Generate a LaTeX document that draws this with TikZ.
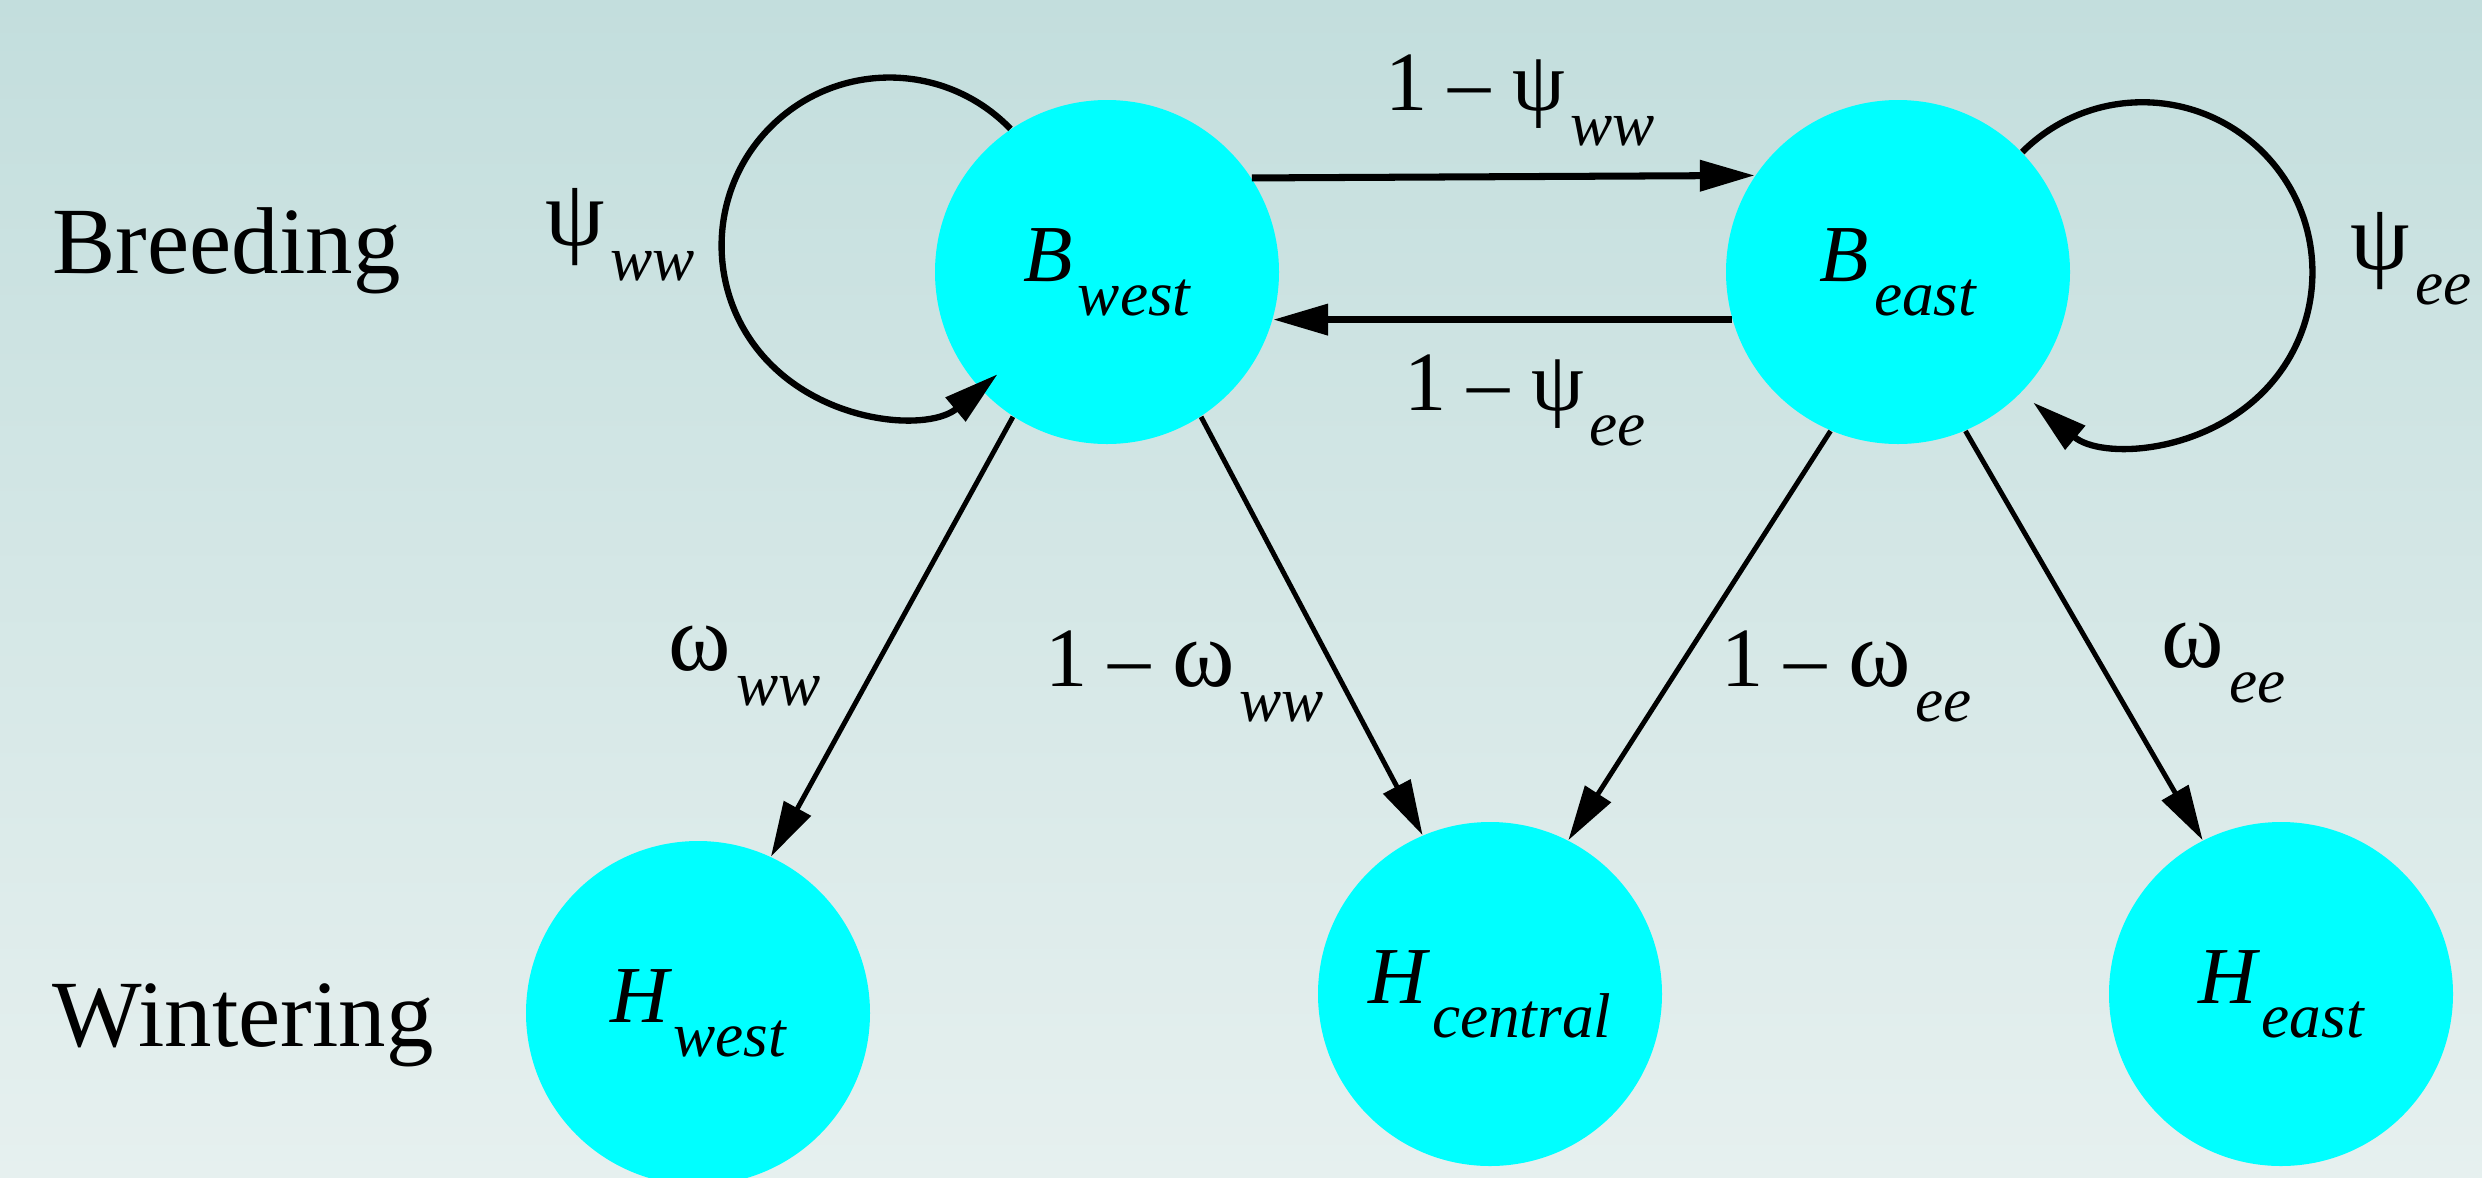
\documentclass[tikz,border=0pt]{standalone}
\usepackage{fontspec}
\setmainfont{Liberation Serif}
\usetikzlibrary{arrows.meta}
\definecolor{bgtop}{RGB}{195,222,221}
\definecolor{bgbot}{RGB}{230,240,239}
\definecolor{site}{RGB}{0,255,255}
\newcommand{\lowsub}[1]{\kern0.06em\raisebox{-0.42em}{\fontsize{18}{18}\selectfont\itshape #1}}
\newcommand{\gk}[1]{{\fontsize{27}{27}\selectfont #1}}

\begin{document}
\begin{tikzpicture}[
        state/.style={circle, fill=site, minimum size=3.44cm, inner sep=0pt,
                      font=\fontsize{23}{23}\selectfont\itshape},
        season/.style={font=\fontsize{27}{27}\selectfont, inner sep=0pt, anchor=base west},
        prob/.style={font=\fontsize{24}{24}\selectfont, inner sep=0pt, anchor=base west},
        tip/.style={-{Triangle[length=5.5mm,width=3mm]}}
    ]
        \fill[top color=bgtop, bottom color=bgbot] (0,0) rectangle (24.82,-11.77);
        \useasboundingbox (0,0) rectangle (24.82,-11.77);
        \node[state] (Bw) at (11.07,-2.72) {B\lowsub{west}};
        \node[state] (Be) at (18.98,-2.72) {B\lowsub{east}};
        \node[state] (Hw) at (6.98,-10.13) {H\lowsub{west}};
        \node[state] (Hc) at (14.90,-9.94) {H\lowsub{central}};
        \node[state] (He) at (22.81,-9.94) {H\lowsub{east}};
        \node[season] (breed) at (0.52,-2.73) {Breeding};
        \node[season] (winter) at (0.52,-10.46) {Wintering};
        % movement between breeding sites
        \draw[tip, line width=2pt] (Bw.33.5) -- (Be.146.5);
        \draw[tip, line width=2pt] (Be.196.5) -- (Bw.-16.5);
        \draw[tip, line width=1.8pt] (Bw.124) arc[start angle=44, end angle=310, radius=1.68];
        \draw[tip, line width=1.8pt] (Be.44) arc[start angle=135, end angle=-130, radius=1.7];
        % migration to wintering sites
        \draw[tip, line width=1.4pt] (Bw.-123) -- (Hw.65.6);
        \draw[tip, line width=1.4pt] (Bw.-57.5) -- (Hc.113);
        \draw[tip, line width=1.4pt] (Be.-113) -- (Hc.63);
        \draw[tip, line width=1.4pt] (Be.-67) -- (He.117);
        \node[prob] (pww) at (5.45,-2.45) {\gk{ψ}\lowsub{ww}};
        \node[prob] (qww) at (13.85,-1.10) {1 – ψ\lowsub{ww}};
        \node[prob] (qee) at (14.04,-4.10) {1 – ψ\lowsub{ee}};
        \node[prob] (pee) at (23.50,-2.69) {\gk{ψ}\lowsub{ee}};
        \node[prob] (oww) at (6.68,-6.70) {\gk{ω}\lowsub{ww}};
        \node[prob] (rww) at (10.45,-6.86) {1 – \gk{ω}\lowsub{ww}};
        \node[prob] (ree) at (17.21,-6.86) {1 – \gk{ω}\lowsub{ee}};
        \node[prob] (oee) at (21.61,-6.67) {\gk{ω}\lowsub{ee}};
    \end{tikzpicture}
\end{document}
